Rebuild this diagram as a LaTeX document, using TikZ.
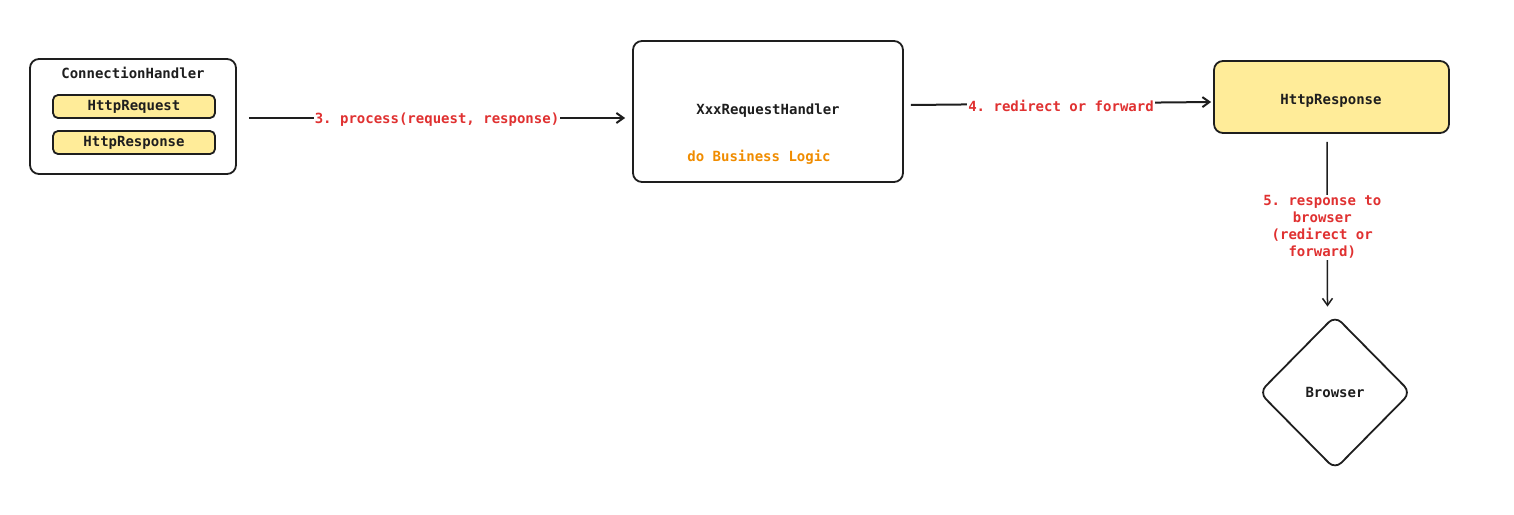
\documentclass[tikz,border=0pt]{standalone}
\usepackage{fontspec}
\setmonofont{DejaVu Sans Mono}
\usetikzlibrary{arrows.meta}
\usetikzlibrary{shapes.geometric}
\definecolor{ink}{HTML}{1E1E1E}
\definecolor{flowred}{HTML}{E03131}
\definecolor{logicorange}{HTML}{F08C00}
\definecolor{noteyellow}{HTML}{FFEC99}

\begin{document}
\begin{tikzpicture}[
x=1pt, y=-1pt,
every node/.style={font=\ttfamily\bfseries\fontsize{14}{17}\selectfont, text=ink},
box/.style={draw=ink, line width=1.8pt, rounded corners=9pt, inner sep=0pt},
msgbox/.style={box, fill=noteyellow, rounded corners=5pt},
flow/.style={-{Straight Barb[length=7pt, width=10pt]}, line width=2pt, draw=ink},
flowlabel/.style={fill=white, text=flowred, inner sep=1pt, yshift=-2pt}
]
\useasboundingbox (0,0) rectangle (1514,514);

% connection handler with its request and response
\node[box, minimum width=206, minimum height=115] (conn) at (133,116.5) {};
\node (connTitle) at (133,73) {ConnectionHandler};
\node[msgbox, minimum width=162, minimum height=23] (req) at (134,106.5) {HttpRequest};
\node[msgbox, minimum width=162, minimum height=23] (res) at (134,142.5) {HttpResponse};

% request handler
\node[box, minimum width=270, minimum height=141] (handler) at (768,111.5) {};
\node (handlerTitle) at (768,111) {XxxRequestHandler};
\node[text=logicorange] (logic) at (759,157) {do Business Logic};

% final response and browser
\node[box, fill=noteyellow, minimum width=235, minimum height=72] (resp) at (1331.5,97) {};
\node (respTitle) at (1331,101) {HttpResponse};
\node[diamond, draw=ink, line width=1.8pt, rounded corners=9pt, inner sep=0pt,
      minimum width=152, minimum height=154] (browser) at (1335,392.5) {Browser};

\draw[flow] ([xshift=12pt, yshift=-1.5pt]conn.east) -- ([xshift=-7pt, yshift=-6.5pt]handler.west)
  node[flowlabel, pos=0.5] {3. process(request, response)};
\draw[flow] ([xshift=7pt, yshift=6.5pt]handler.east) -- ([xshift=-2pt, yshift=-5pt]resp.west)
  node[flowlabel, pos=0.5] {4. redirect or forward};
\draw[flow, line width=1.5pt] ([xshift=-4.5pt, yshift=-8pt]resp.south) -- ([xshift=-7.5pt, yshift=8pt]browser.north)
  node[flowlabel, pos=0.5, align=center, xshift=-5pt, yshift=-1pt] {5. response to\\browser\\(redirect or\\forward)};
\end{tikzpicture}
\end{document}
